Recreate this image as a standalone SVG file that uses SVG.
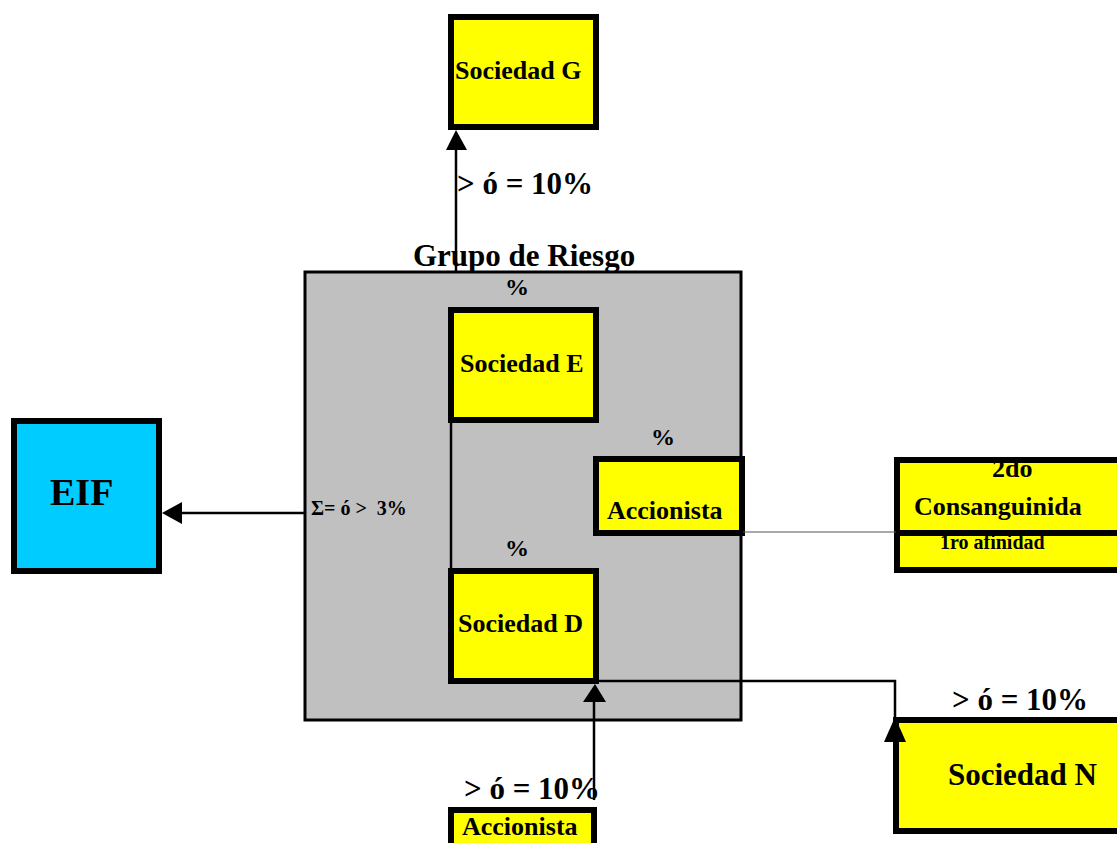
<svg xmlns="http://www.w3.org/2000/svg" width="1117" height="843" viewBox="0 0 1117 843">
<style>
.box{fill:#FFFF00;stroke:#000;stroke-width:6}
.t{font-family:"Liberation Serif","Times New Roman",serif;font-weight:bold;fill:#000}
.ln{stroke:#000;stroke-width:2.5;fill:none}
</style>
<rect width="1117" height="843" fill="#fff"/>
<g id="grupo">
<rect x="305" y="272" width="436" height="448" fill="#C0C0C0" stroke="#000" stroke-width="3"/>
<text class="t" x="413" y="266" font-size="31">Grupo de Riesgo</text>
<text class="t" x="505" y="295" font-size="24">%</text>
<text class="t" x="651" y="445" font-size="24">%</text>
<text class="t" x="505" y="556" font-size="24">%</text>
<text class="t" x="311" y="515" font-size="20">Σ= ó &gt; &#160;3%</text>
</g>
<g id="sociedadG">
<rect class="box" x="451" y="17" width="145" height="110"/>
<text class="t" x="455" y="79" font-size="26">Sociedad G</text>
<text class="t" x="457" y="194" font-size="31">&gt; ó = 10%</text>
</g>
<g id="sociedadE">
<rect class="box" x="451" y="310" width="145" height="110"/>
<text class="t" x="460" y="372" font-size="26">Sociedad E</text>
</g>
<g id="sociedadD">
<rect class="box" x="451" y="571" width="145" height="110"/>
<text class="t" x="458" y="632" font-size="26">Sociedad D</text>
</g>
<g id="accionista1">
<rect class="box" x="596" y="459" width="146" height="74"/>
<text class="t" x="607" y="519" font-size="26">Accionista</text>
</g>
<g id="eif">
<rect x="14" y="421" width="145" height="150" fill="#00CCFF" stroke="#000" stroke-width="6"/>
<text class="t" x="50" y="505" font-size="38">EIF</text>
</g>
<g id="consanguinidad">
<rect class="box" x="897" y="460" width="240" height="73"/>
<rect class="box" x="897" y="533" width="240" height="37"/>
<text class="t" x="992" y="477" font-size="26">2do</text>
<text class="t" x="914" y="515" font-size="26">Consanguinida</text>
<text class="t" x="940" y="549" font-size="20">1ro afinidad</text>
</g>
<g id="sociedadN">
<rect class="box" x="896" y="720" width="240" height="111"/>
<text class="t" x="948" y="785" font-size="31">Sociedad N</text>
<text class="t" x="952" y="710" font-size="31">&gt; ó = 10%</text>
</g>
<g id="accionista2">
<rect class="box" x="451" y="810" width="143" height="50"/>
<text class="t" x="462" y="835" font-size="26">Accionista</text>
<text class="t" x="464" y="799" font-size="31">&gt; ó = 10%</text>
</g>
<g id="connectors">
<line class="ln" x1="451" y1="423" x2="451" y2="568" stroke-width="2"/>
<line x1="743" y1="532" x2="896" y2="532" stroke="#555" stroke-width="1.2"/>
<line class="ln" x1="456" y1="272" x2="456" y2="148"/>
<polygon points="456,130 446,150 467,150" fill="#000"/>
<line class="ln" x1="305" y1="513" x2="180" y2="513"/>
<polygon points="162,513 182,502 182,524" fill="#000"/>
<line class="ln" x1="594" y1="800" x2="594" y2="700"/>
<polygon points="595,684 583,702 606,702" fill="#000"/>
<polyline class="ln" points="597,681 895,681 895,740"/>
<polygon points="895,717 884,742 906,742" fill="#000"/>
</g>
</svg>
